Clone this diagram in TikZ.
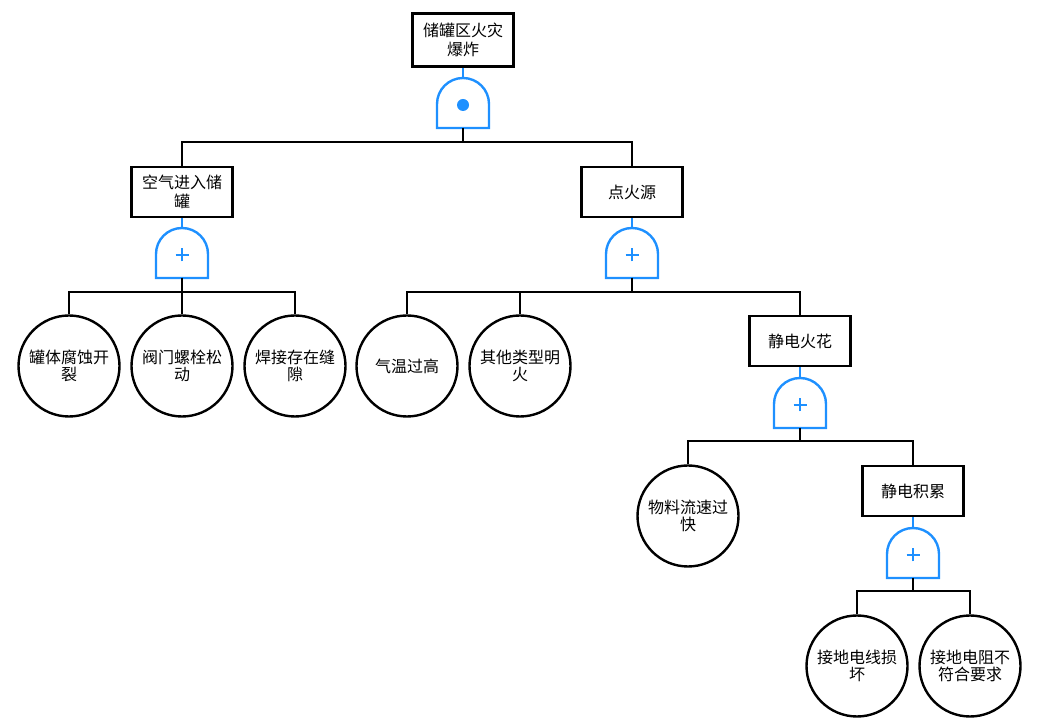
\documentclass[tikz,border=0pt]{standalone}
\usepackage{fontspec}
\newfontfamily\cjk{Noto Sans CJK SC}
\usetikzlibrary{positioning}
\definecolor{gateblue}{RGB}{30,144,255}
\tikzset{%
  block/.style    = {draw, line width=2.4pt, rectangle, minimum height=50pt,
    minimum width=101pt, align=center, fill=white,
    font=\cjk\fontsize{16}{19}\selectfont},
  event/.style    = {draw, line width=2.4pt, circle, minimum size=101pt,
    inner sep=0pt, align=center, font=\cjk\fontsize{16}{17}\selectfont}, % basic event
  link/.style     = {line width=2.4pt},
  gatelink/.style = {draw=gateblue, line width=2.4pt},
  orgate/.pic     = {
    \draw[gatelink, fill=white] (-26,0) -- (-26,24) arc (180:0:26) -- (26,0) -- cycle;
    \draw[gatelink] (-6.5,23) -- (6.5,23) (0,16.5) -- (0,29.5);
    \coordinate (-top) at (0,50);
    \coordinate (-bot) at (0,0);
  },
  andgate/.pic    = {
    \draw[gatelink, fill=white] (-26,0) -- (-26,24) arc (180:0:26) -- (26,0) -- cycle;
    \fill[gateblue] (0,23) circle (6);
    \coordinate (-top) at (0,50);
    \coordinate (-bot) at (0,0);
  }
}

\begin{document}
\begin{tikzpicture}[x=1pt, y=1pt]
  \useasboundingbox (0,0) rectangle (1056,722);

  \node at (463,682) [block, minimum height=53pt] (top) {储罐区火灾\\爆炸};
  \pic at (463,594) (g1) {andgate};

  \node at (182,530) [block] (air) {空气进入储\\罐};
  \node at (632,530) [block] (ignite) {点火源};
  \pic at (182,444) (g2) {orgate};
  \pic at (632,444) (g3) {orgate};

  \node at (69,356) [event] (corrode) {罐体腐蚀开\\裂};
  \node at (182,356) [event] (bolt) {阀门螺栓松\\动};
  \node at (295,356) [event] (weld) {焊接存在缝\\隙};

  \node at (407,356) [event] (temp) {气温过高};
  \node at (520,356) [event] (flame) {其他类型明\\火};
  \node at (800,381) [block] (spark) {静电火花};
  \pic at (800,294) (g4) {orgate};

  \node at (688,206) [event] (flow) {物料流速过\\快};
  \node at (913,231) [block] (charge) {静电积累};
  \pic at (913,144) (g5) {orgate};

  \node at (857,56) [event] (wire) {接地电线损\\坏};
  \node at (970,56) [event] (resist) {接地电阻不\\符合要求};

  % gate inputs
  \draw[gatelink] (top.south) -- (g1-top);
  \draw[gatelink] (air.south) -- (g2-top);
  \draw[gatelink] (ignite.south) -- (g3-top);
  \draw[gatelink] (spark.south) -- (g4-top);
  \draw[gatelink] (charge.south) -- (g5-top);

  % gate outputs
  \draw[link] (g1-bot) -- ++(0,-14) -| (air.north);
  \draw[link] (g1-bot) -- ++(0,-14) -| (ignite.north);

  \draw[link] (g2-bot) -- ++(0,-14) -| (corrode.north);
  \draw[link] (g2-bot) -- (bolt.north);
  \draw[link] (g2-bot) -- ++(0,-14) -| (weld.north);

  \draw[link] (g3-bot) -- ++(0,-14) -| (temp.north);
  \draw[link] (g3-bot) -- ++(0,-14) -| (flame.north);
  \draw[link] (g3-bot) -- ++(0,-14) -| (spark.north);

  \draw[link] (g4-bot) -- ++(0,-13) -| (flow.north);
  \draw[link] (g4-bot) -- ++(0,-13) -| (charge.north);

  \draw[link] (g5-bot) -- ++(0,-13) -| (wire.north);
  \draw[link] (g5-bot) -- ++(0,-13) -| (resist.north);
\end{tikzpicture}
\end{document}
